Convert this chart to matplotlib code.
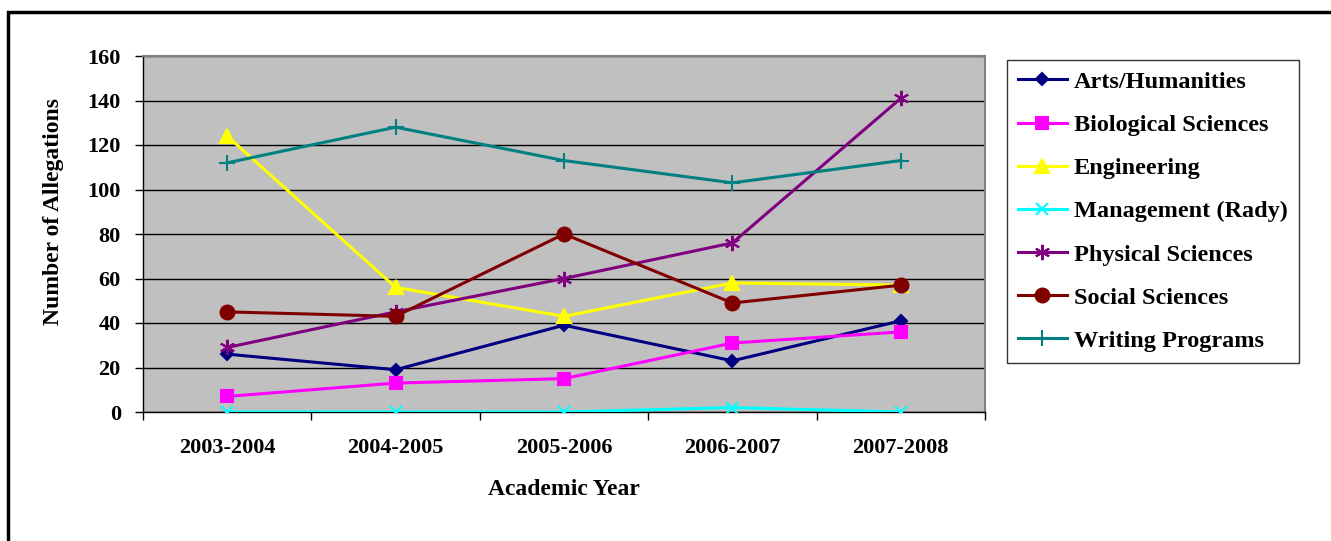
import matplotlib.pyplot as plt
from matplotlib.patches import Rectangle

# Данные: число обвинений по факультетам и учебным годам
years = ['2003-2004', '2004-2005', '2005-2006', '2006-2007', '2007-2008']
arts = [26, 19, 39, 23, 41]
bio = [7, 13, 15, 31, 36]
engineering = [124, 56, 43, 58, 57]
management = [0, 0, 0, 2, 0]
physical = [29, 45, 60, 76, 141]
social = [45, 43, 80, 49, 57]
writing = [112, 128, 113, 103, 113]

series = [
    ('Arts/Humanities', arts, '#000080', 'D', 6),
    ('Biological Sciences', bio, '#FF00FF', 's', 9),
    ('Engineering', engineering, '#FFFF00', '^', 10),
    ('Management (Rady)', management, '#00FFFF', 'x', 9),
    ('Physical Sciences', physical, '#800080', (6, 2, 0), 11),
    ('Social Sciences', social, '#800000', 'o', 10),
    ('Writing Programs', writing, '#008080', '+', 11),
]

plt.rcParams['font.family'] = ['Liberation Serif', 'DejaVu Serif']
plt.rcParams['font.weight'] = 'bold'

fig = plt.figure(figsize=(13.31, 5.41), dpi=100)
ax = fig.add_axes([143 / 1331, 1 - 412 / 541, 842 / 1331, 356 / 541])
ax.set_facecolor('#C0C0C0')

x = range(len(years))
for name, vals, color, marker, ms in series:
    ax.plot(x, vals, color=color, marker=marker, markersize=ms, linewidth=2.2,
            markeredgewidth=1.5, label=name, zorder=3)

ax.set_xlim(-0.5, 4.5)
ax.set_ylim(0, 160)
ax.set_yticks(range(0, 161, 20))
ax.set_xticks(x)
ax.set_xticklabels(years)
ax.set_xticks([i - 0.5 for i in range(6)], minor=True)
ax.tick_params(axis='x', which='major', length=0, pad=19, labelsize=16)
ax.tick_params(axis='x', which='minor', length=6, direction='out', width=1)
ax.tick_params(axis='y', length=6, direction='out', width=1, labelsize=16, pad=10)
ax.yaxis.grid(True, color='black', linewidth=1)
ax.set_axisbelow(True)

for s in ['top', 'right']:
    ax.spines[s].set_color('#808080')
    ax.spines[s].set_linewidth(1.5)
for s in ['left', 'bottom']:
    ax.spines[s].set_color('black')
    ax.spines[s].set_linewidth(1)

ax.set_xlabel('Academic Year', fontsize=17, fontweight='bold', labelpad=15)
ax.set_ylabel('Number of Allegations', fontsize=17, fontweight='bold')
ax.yaxis.set_label_coords(-0.094, 0.562)

leg = fig.legend(loc='upper left', bbox_to_anchor=(1007 / 1331, 1 - 60 / 541),
                 frameon=True, fancybox=False, fontsize=17.5, handlelength=2.0,
                 labelspacing=0.87, borderpad=0.45, handletextpad=0.3,
                 borderaxespad=0)
leg.get_frame().set_edgecolor('black')
leg.get_frame().set_linewidth(1)

# Внешняя рамка вокруг диаграммы
fig.patches.append(Rectangle((8 / 1331, -0.1), 1.1, 1 - 12 / 541 + 0.1,
                             transform=fig.transFigure, fill=False,
                             edgecolor='black', linewidth=2.5))

fig.savefig('out.png', dpi=100)
